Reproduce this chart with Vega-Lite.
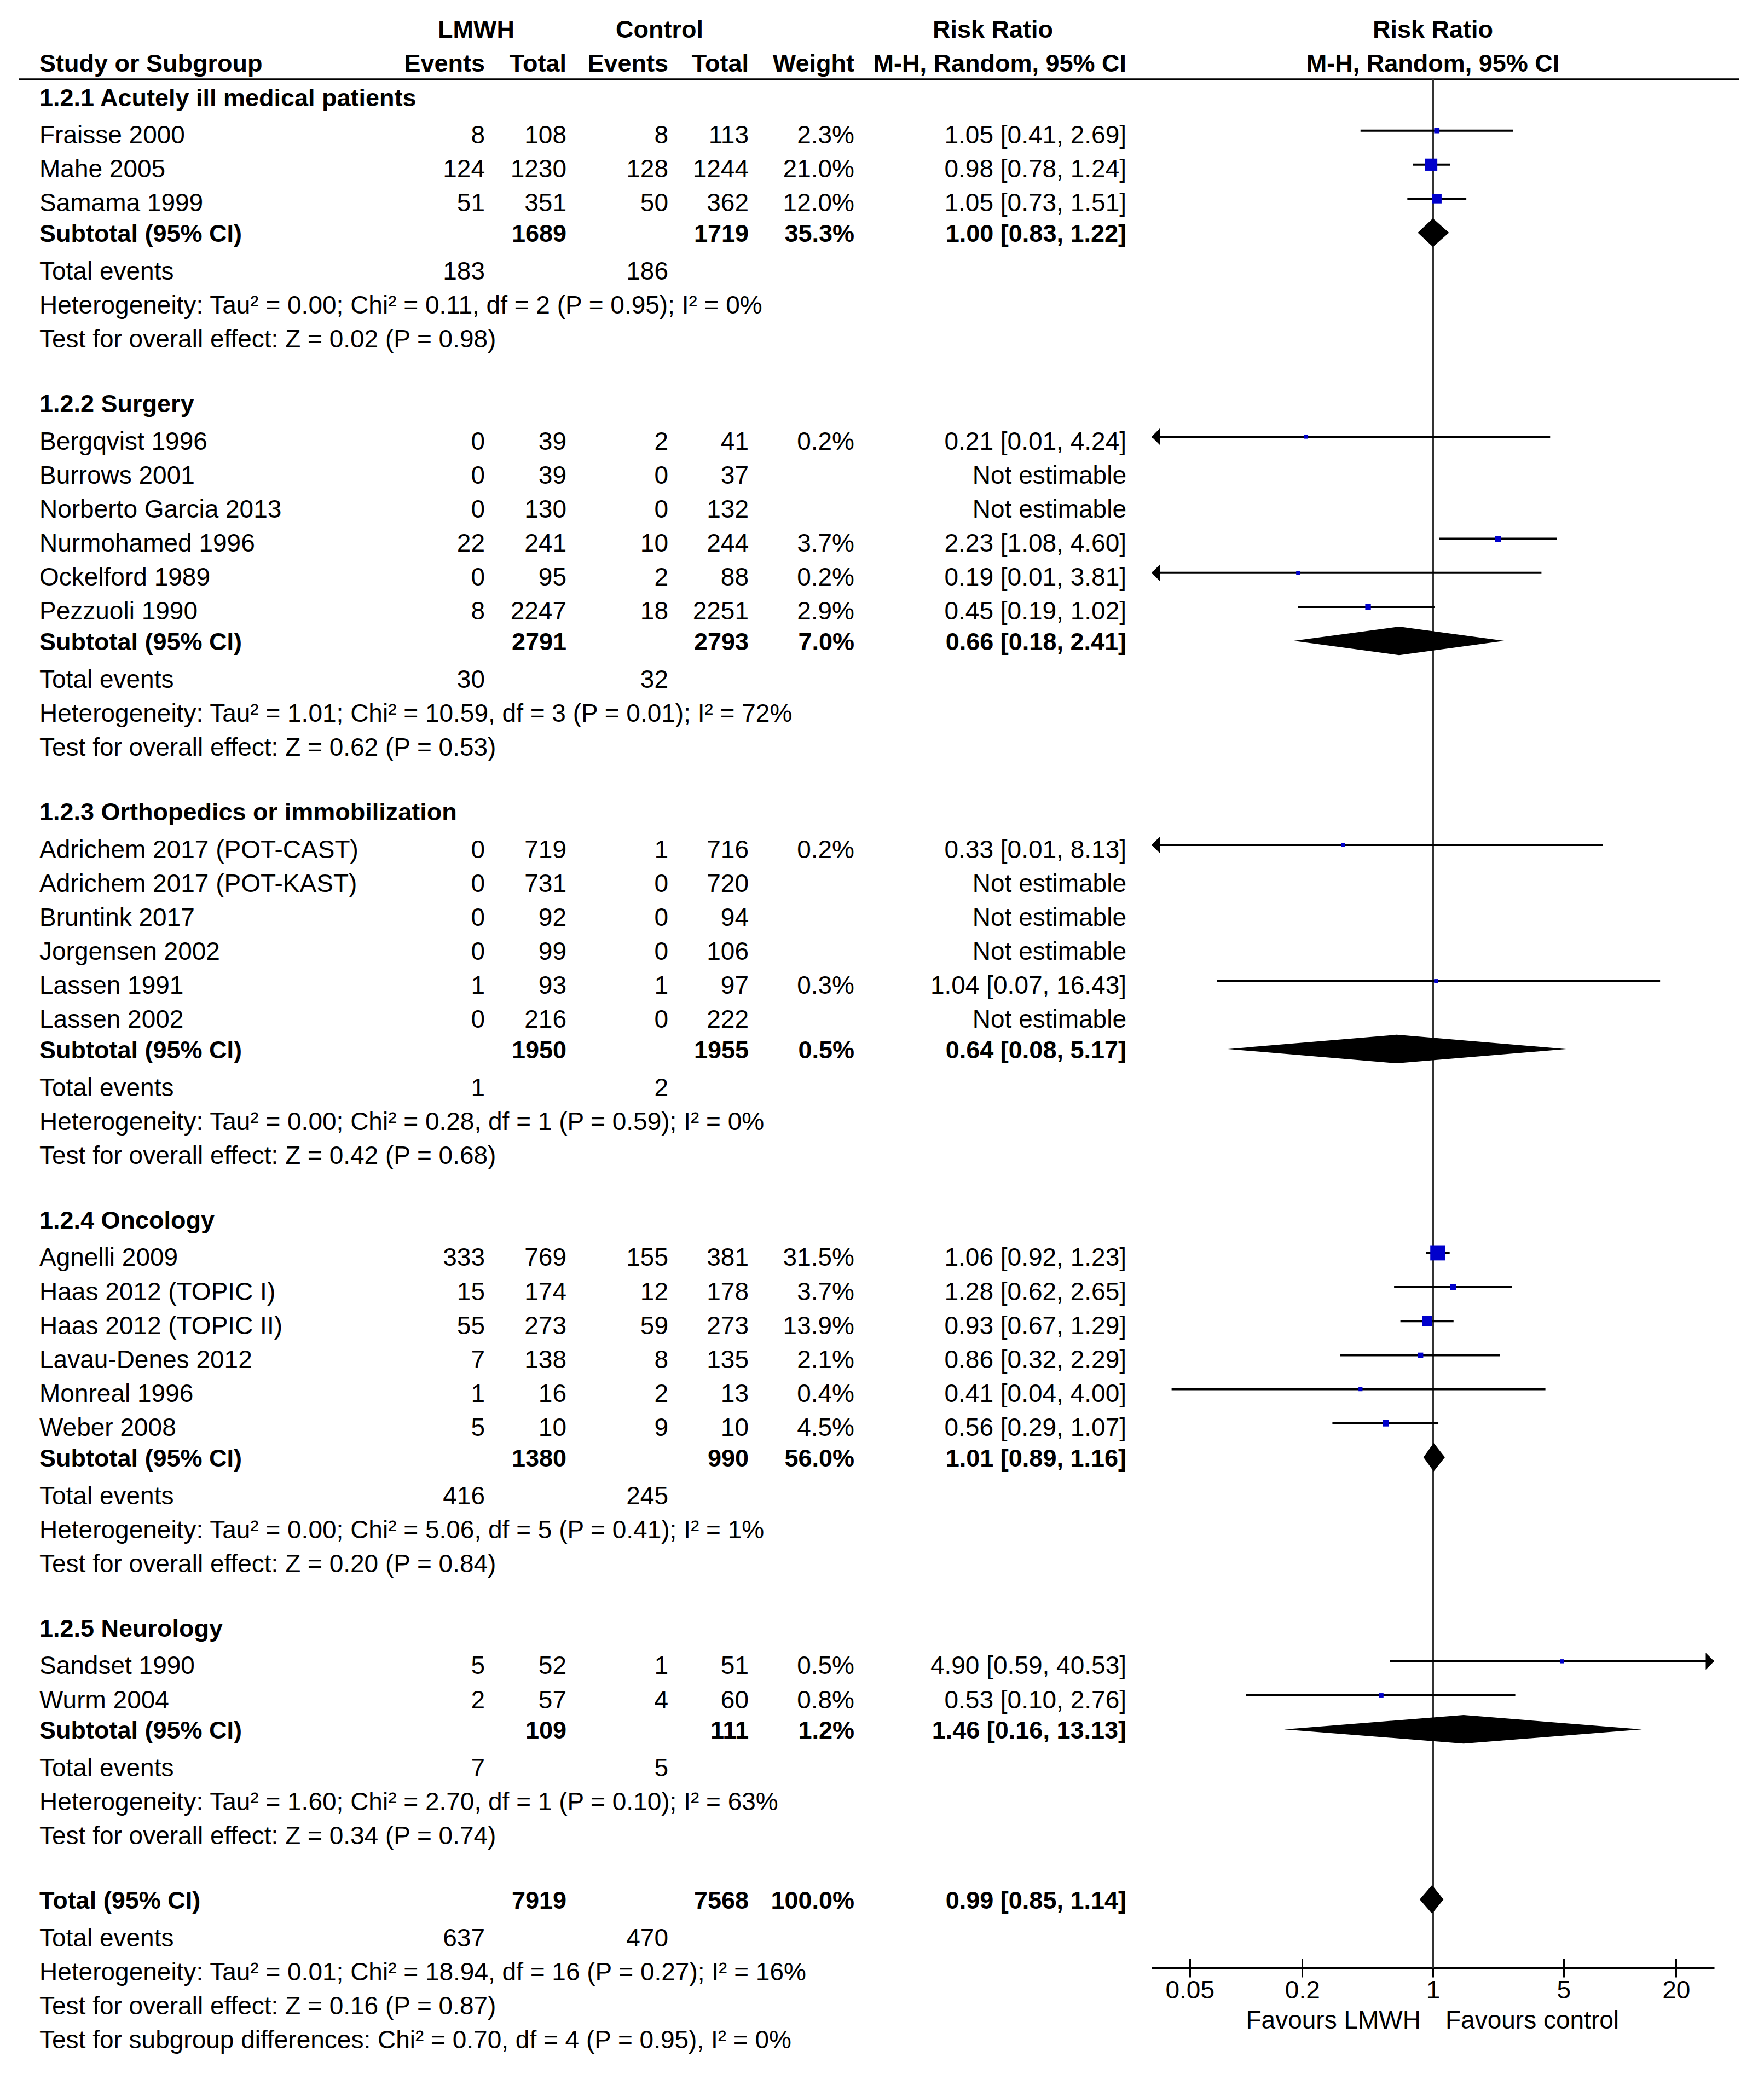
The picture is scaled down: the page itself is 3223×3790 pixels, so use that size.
{
 "$schema": "https://vega.github.io/schema/vega-lite/v6.json",
 "width": 3223, "height": 3790, "autosize": {"type": "none"}, "padding": 0,
 "background": "white",
 "config": {"view": {"stroke": null}},
 "datasets": {
  "hdr": [
   {"r": 1, "c": 1, "t": "Study or Subgroup"},
   {"r": 0, "c": 2, "t": "LMWH"},
   {"r": 0, "c": 5, "t": "Control"},
   {"r": 0, "c": 9, "t": "Risk Ratio"},
   {"r": 1, "c": 3, "t": "Events"},
   {"r": 1, "c": 4, "t": "Total"},
   {"r": 1, "c": 6, "t": "Events"},
   {"r": 1, "c": 7, "t": "Total"},
   {"r": 1, "c": 8, "t": "Weight"},
   {"r": 1, "c": 10, "t": "M-H, Random, 95% CI"}
  ],
  "phdr": [
   {"r": 0, "t": "Risk Ratio"},
   {"r": 1, "t": "M-H, Random, 95% CI"}
  ],
  "table": [
   {"r": 2, "kind": "heading", "label": "1.2.1 Acutely ill medical patients"},
   {"r": 3, "kind": "study", "label": "Fraisse 2000", "e1": 8, "n1": 108, "e2": 8, "n2": 113, "w": 0.023, "ci": "1.05 [0.41, 2.69]", "rr": 1.05, "lo": 0.41, "hi": 2.69},
   {"r": 4, "kind": "study", "label": "Mahe 2005", "e1": 124, "n1": 1230, "e2": 128, "n2": 1244, "w": 0.21, "ci": "0.98 [0.78, 1.24]", "rr": 0.98, "lo": 0.78, "hi": 1.24},
   {"r": 5, "kind": "study", "label": "Samama 1999", "e1": 51, "n1": 351, "e2": 50, "n2": 362, "w": 0.12, "ci": "1.05 [0.73, 1.51]", "rr": 1.05, "lo": 0.73, "hi": 1.51},
   {"r": 6, "kind": "subtotal", "label": "Subtotal (95% CI)", "n1": 1689, "n2": 1719, "w": 0.353, "ci": "1.00 [0.83, 1.22]", "rr": 1.0, "lo": 0.83, "hi": 1.22},
   {"r": 7, "kind": "events", "label": "Total events", "e1": 183, "e2": 186},
   {"r": 8, "kind": "note", "label": "Heterogeneity: Tau² = 0.00; Chi² = 0.11, df = 2 (P = 0.95); I² = 0%"},
   {"r": 9, "kind": "note", "label": "Test for overall effect: Z = 0.02 (P = 0.98)"},
   {"r": 11, "kind": "heading", "label": "1.2.2 Surgery"},
   {"r": 12, "kind": "study", "label": "Bergqvist 1996", "e1": 0, "n1": 39, "e2": 2, "n2": 41, "w": 0.002, "ci": "0.21 [0.01, 4.24]", "rr": 0.21, "lo": 0.01, "hi": 4.24},
   {"r": 13, "kind": "study", "label": "Burrows 2001", "e1": 0, "n1": 39, "e2": 0, "n2": 37, "ci": "Not estimable"},
   {"r": 14, "kind": "study", "label": "Norberto Garcia 2013", "e1": 0, "n1": 130, "e2": 0, "n2": 132, "ci": "Not estimable"},
   {"r": 15, "kind": "study", "label": "Nurmohamed 1996", "e1": 22, "n1": 241, "e2": 10, "n2": 244, "w": 0.037, "ci": "2.23 [1.08, 4.60]", "rr": 2.23, "lo": 1.08, "hi": 4.60},
   {"r": 16, "kind": "study", "label": "Ockelford 1989", "e1": 0, "n1": 95, "e2": 2, "n2": 88, "w": 0.002, "ci": "0.19 [0.01, 3.81]", "rr": 0.19, "lo": 0.01, "hi": 3.81},
   {"r": 17, "kind": "study", "label": "Pezzuoli 1990", "e1": 8, "n1": 2247, "e2": 18, "n2": 2251, "w": 0.029, "ci": "0.45 [0.19, 1.02]", "rr": 0.45, "lo": 0.19, "hi": 1.02},
   {"r": 18, "kind": "subtotal", "label": "Subtotal (95% CI)", "n1": 2791, "n2": 2793, "w": 0.07, "ci": "0.66 [0.18, 2.41]", "rr": 0.66, "lo": 0.18, "hi": 2.41},
   {"r": 19, "kind": "events", "label": "Total events", "e1": 30, "e2": 32},
   {"r": 20, "kind": "note", "label": "Heterogeneity: Tau² = 1.01; Chi² = 10.59, df = 3 (P = 0.01); I² = 72%"},
   {"r": 21, "kind": "note", "label": "Test for overall effect: Z = 0.62 (P = 0.53)"},
   {"r": 23, "kind": "heading", "label": "1.2.3 Orthopedics or immobilization"},
   {"r": 24, "kind": "study", "label": "Adrichem 2017 (POT-CAST)", "e1": 0, "n1": 719, "e2": 1, "n2": 716, "w": 0.002, "ci": "0.33 [0.01, 8.13]", "rr": 0.33, "lo": 0.01, "hi": 8.13},
   {"r": 25, "kind": "study", "label": "Adrichem 2017 (POT-KAST)", "e1": 0, "n1": 731, "e2": 0, "n2": 720, "ci": "Not estimable"},
   {"r": 26, "kind": "study", "label": "Bruntink 2017", "e1": 0, "n1": 92, "e2": 0, "n2": 94, "ci": "Not estimable"},
   {"r": 27, "kind": "study", "label": "Jorgensen 2002", "e1": 0, "n1": 99, "e2": 0, "n2": 106, "ci": "Not estimable"},
   {"r": 28, "kind": "study", "label": "Lassen 1991", "e1": 1, "n1": 93, "e2": 1, "n2": 97, "w": 0.003, "ci": "1.04 [0.07, 16.43]", "rr": 1.04, "lo": 0.07, "hi": 16.43},
   {"r": 29, "kind": "study", "label": "Lassen 2002", "e1": 0, "n1": 216, "e2": 0, "n2": 222, "ci": "Not estimable"},
   {"r": 30, "kind": "subtotal", "label": "Subtotal (95% CI)", "n1": 1950, "n2": 1955, "w": 0.005, "ci": "0.64 [0.08, 5.17]", "rr": 0.64, "lo": 0.08, "hi": 5.17},
   {"r": 31, "kind": "events", "label": "Total events", "e1": 1, "e2": 2},
   {"r": 32, "kind": "note", "label": "Heterogeneity: Tau² = 0.00; Chi² = 0.28, df = 1 (P = 0.59); I² = 0%"},
   {"r": 33, "kind": "note", "label": "Test for overall effect: Z = 0.42 (P = 0.68)"},
   {"r": 35, "kind": "heading", "label": "1.2.4 Oncology"},
   {"r": 36, "kind": "study", "label": "Agnelli 2009", "e1": 333, "n1": 769, "e2": 155, "n2": 381, "w": 0.315, "ci": "1.06 [0.92, 1.23]", "rr": 1.06, "lo": 0.92, "hi": 1.23},
   {"r": 37, "kind": "study", "label": "Haas 2012 (TOPIC I)", "e1": 15, "n1": 174, "e2": 12, "n2": 178, "w": 0.037, "ci": "1.28 [0.62, 2.65]", "rr": 1.28, "lo": 0.62, "hi": 2.65},
   {"r": 38, "kind": "study", "label": "Haas 2012 (TOPIC II)", "e1": 55, "n1": 273, "e2": 59, "n2": 273, "w": 0.139, "ci": "0.93 [0.67, 1.29]", "rr": 0.93, "lo": 0.67, "hi": 1.29},
   {"r": 39, "kind": "study", "label": "Lavau-Denes 2012", "e1": 7, "n1": 138, "e2": 8, "n2": 135, "w": 0.021, "ci": "0.86 [0.32, 2.29]", "rr": 0.86, "lo": 0.32, "hi": 2.29},
   {"r": 40, "kind": "study", "label": "Monreal 1996", "e1": 1, "n1": 16, "e2": 2, "n2": 13, "w": 0.004, "ci": "0.41 [0.04, 4.00]", "rr": 0.41, "lo": 0.04, "hi": 4.00},
   {"r": 41, "kind": "study", "label": "Weber 2008", "e1": 5, "n1": 10, "e2": 9, "n2": 10, "w": 0.045, "ci": "0.56 [0.29, 1.07]", "rr": 0.56, "lo": 0.29, "hi": 1.07},
   {"r": 42, "kind": "subtotal", "label": "Subtotal (95% CI)", "n1": 1380, "n2": 990, "w": 0.56, "ci": "1.01 [0.89, 1.16]", "rr": 1.01, "lo": 0.89, "hi": 1.16},
   {"r": 43, "kind": "events", "label": "Total events", "e1": 416, "e2": 245},
   {"r": 44, "kind": "note", "label": "Heterogeneity: Tau² = 0.00; Chi² = 5.06, df = 5 (P = 0.41); I² = 1%"},
   {"r": 45, "kind": "note", "label": "Test for overall effect: Z = 0.20 (P = 0.84)"},
   {"r": 47, "kind": "heading", "label": "1.2.5 Neurology"},
   {"r": 48, "kind": "study", "label": "Sandset 1990", "e1": 5, "n1": 52, "e2": 1, "n2": 51, "w": 0.005, "ci": "4.90 [0.59, 40.53]", "rr": 4.90, "lo": 0.59, "hi": 40.53},
   {"r": 49, "kind": "study", "label": "Wurm 2004", "e1": 2, "n1": 57, "e2": 4, "n2": 60, "w": 0.008, "ci": "0.53 [0.10, 2.76]", "rr": 0.53, "lo": 0.10, "hi": 2.76},
   {"r": 50, "kind": "subtotal", "label": "Subtotal (95% CI)", "n1": 109, "n2": 111, "w": 0.012, "ci": "1.46 [0.16, 13.13]", "rr": 1.46, "lo": 0.16, "hi": 13.13},
   {"r": 51, "kind": "events", "label": "Total events", "e1": 7, "e2": 5},
   {"r": 52, "kind": "note", "label": "Heterogeneity: Tau² = 1.60; Chi² = 2.70, df = 1 (P = 0.10); I² = 63%"},
   {"r": 53, "kind": "note", "label": "Test for overall effect: Z = 0.34 (P = 0.74)"},
   {"r": 55, "kind": "total", "label": "Total (95% CI)", "n1": 7919, "n2": 7568, "w": 1.0, "ci": "0.99 [0.85, 1.14]", "rr": 0.99, "lo": 0.85, "hi": 1.14},
   {"r": 56, "kind": "events", "label": "Total events", "e1": 637, "e2": 470},
   {"r": 57, "kind": "note", "label": "Heterogeneity: Tau² = 0.01; Chi² = 18.94, df = 16 (P = 0.27); I² = 16%"},
   {"r": 58, "kind": "note", "label": "Test for overall effect: Z = 0.16 (P = 0.87)"},
   {"r": 59, "kind": "note", "label": "Test for subgroup differences: Chi² = 0.70, df = 4 (P = 0.95), I² = 0%"}
  ]
 },
 "layer": [
  {"data": {"values": [{}]},
   "mark": {"type": "rule", "stroke": "#000", "strokeWidth": 3.5},
   "encoding": {
    "x": {"datum": 0, "type": "quantitative", "scale": {"domain": [0,1,2,3,4,5,6,7,8,9,10,11], "range": [34,72,870,886,1035,1205,1221,1368,1561,1814,2058,3177], "nice": false, "zero": false}, "axis": null},
    "x2": {"datum": 11},
    "y": {"datum": 1.493, "type": "quantitative", "scale": {"domain": [0,59], "range": [52.2,3719.6], "nice": false, "zero": false}, "axis": null}}},
  {"data": {"name": "hdr"}, "transform": [{"filter": "datum.c == 1"}],
   "mark": {"type": "text", "align": "left", "baseline": "middle", "dy": 3, "font": "Liberation Sans", "fontSize": 45, "fontWeight": "bold", "fill": "#000"},
   "encoding": {
    "x": {"field": "c", "type": "quantitative", "scale": {"domain": [0,1,2,3,4,5,6,7,8,9,10,11], "range": [34,72,870,886,1035,1205,1221,1368,1561,1814,2058,3177], "nice": false, "zero": false}, "axis": null},
    "y": {"field": "r", "type": "quantitative", "scale": {"domain": [0,59], "range": [52.2,3719.6], "nice": false, "zero": false}, "axis": null},
    "text": {"field": "t"}}},
  {"data": {"name": "hdr"}, "transform": [{"filter": "datum.r == 0"}],
   "mark": {"type": "text", "align": "center", "baseline": "middle", "dy": 3, "font": "Liberation Sans", "fontSize": 45, "fontWeight": "bold", "fill": "#000"},
   "encoding": {
    "x": {"field": "c", "type": "quantitative", "scale": {"domain": [0,1,2,3,4,5,6,7,8,9,10,11], "range": [34,72,870,886,1035,1205,1221,1368,1561,1814,2058,3177], "nice": false, "zero": false}, "axis": null},
    "y": {"field": "r", "type": "quantitative", "scale": {"domain": [0,59], "range": [52.2,3719.6], "nice": false, "zero": false}, "axis": null},
    "text": {"field": "t"}}},
  {"data": {"name": "hdr"}, "transform": [{"filter": "datum.r == 1 && datum.c > 1"}],
   "mark": {"type": "text", "align": "right", "baseline": "middle", "dy": 3, "font": "Liberation Sans", "fontSize": 45, "fontWeight": "bold", "fill": "#000"},
   "encoding": {
    "x": {"field": "c", "type": "quantitative", "scale": {"domain": [0,1,2,3,4,5,6,7,8,9,10,11], "range": [34,72,870,886,1035,1205,1221,1368,1561,1814,2058,3177], "nice": false, "zero": false}, "axis": null},
    "y": {"field": "r", "type": "quantitative", "scale": {"domain": [0,59], "range": [52.2,3719.6], "nice": false, "zero": false}, "axis": null},
    "text": {"field": "t"}}},
  {"data": {"name": "table"}, "transform": [{"filter": "datum.kind == 'study' || datum.kind == 'events' || datum.kind == 'note'"}],
   "mark": {"type": "text", "align": "left", "baseline": "middle", "dy": 9.5, "font": "Liberation Sans", "fontSize": 46, "fill": "#000"},
   "encoding": {
    "x": {"datum": 1, "type": "quantitative", "scale": {"domain": [0,1,2,3,4,5,6,7,8,9,10,11], "range": [34,72,870,886,1035,1205,1221,1368,1561,1814,2058,3177], "nice": false, "zero": false}, "axis": null},
    "y": {"field": "r", "type": "quantitative", "scale": {"domain": [0,59], "range": [52.2,3719.6], "nice": false, "zero": false}, "axis": null},
    "text": {"field": "label"}}},
  {"data": {"name": "table"}, "transform": [{"filter": "datum.kind == 'heading' || datum.kind == 'subtotal' || datum.kind == 'total'"}],
   "mark": {"type": "text", "align": "left", "baseline": "middle", "dy": 3, "font": "Liberation Sans", "fontSize": 45, "fontWeight": "bold", "fill": "#000"},
   "encoding": {
    "x": {"datum": 1, "type": "quantitative", "scale": {"domain": [0,1,2,3,4,5,6,7,8,9,10,11], "range": [34,72,870,886,1035,1205,1221,1368,1561,1814,2058,3177], "nice": false, "zero": false}, "axis": null},
    "y": {"field": "r", "type": "quantitative", "scale": {"domain": [0,59], "range": [52.2,3719.6], "nice": false, "zero": false}, "axis": null},
    "text": {"field": "label"}}},
  {"data": {"name": "table"}, "transform": [{"filter": "(datum.kind == 'study' || datum.kind == 'events') && isValid(datum.e1)"}],
   "mark": {"type": "text", "align": "right", "baseline": "middle", "dy": 9.5, "font": "Liberation Sans", "fontSize": 46, "fill": "#000"},
   "encoding": {
    "x": {"datum": 3, "type": "quantitative", "scale": {"domain": [0,1,2,3,4,5,6,7,8,9,10,11], "range": [34,72,870,886,1035,1205,1221,1368,1561,1814,2058,3177], "nice": false, "zero": false}, "axis": null},
    "y": {"field": "r", "type": "quantitative", "scale": {"domain": [0,59], "range": [52.2,3719.6], "nice": false, "zero": false}, "axis": null},
    "text": {"field": "e1", "type": "nominal"}}},
  {"data": {"name": "table"}, "transform": [{"filter": "datum.kind == 'study'"}],
   "mark": {"type": "text", "align": "right", "baseline": "middle", "dy": 9.5, "font": "Liberation Sans", "fontSize": 46, "fill": "#000"},
   "encoding": {
    "x": {"datum": 4, "type": "quantitative", "scale": {"domain": [0,1,2,3,4,5,6,7,8,9,10,11], "range": [34,72,870,886,1035,1205,1221,1368,1561,1814,2058,3177], "nice": false, "zero": false}, "axis": null},
    "y": {"field": "r", "type": "quantitative", "scale": {"domain": [0,59], "range": [52.2,3719.6], "nice": false, "zero": false}, "axis": null},
    "text": {"field": "n1", "type": "nominal"}}},
  {"data": {"name": "table"}, "transform": [{"filter": "(datum.kind == 'study' || datum.kind == 'events') && isValid(datum.e2)"}],
   "mark": {"type": "text", "align": "right", "baseline": "middle", "dy": 9.5, "font": "Liberation Sans", "fontSize": 46, "fill": "#000"},
   "encoding": {
    "x": {"datum": 6, "type": "quantitative", "scale": {"domain": [0,1,2,3,4,5,6,7,8,9,10,11], "range": [34,72,870,886,1035,1205,1221,1368,1561,1814,2058,3177], "nice": false, "zero": false}, "axis": null},
    "y": {"field": "r", "type": "quantitative", "scale": {"domain": [0,59], "range": [52.2,3719.6], "nice": false, "zero": false}, "axis": null},
    "text": {"field": "e2", "type": "nominal"}}},
  {"data": {"name": "table"}, "transform": [{"filter": "datum.kind == 'study'"}],
   "mark": {"type": "text", "align": "right", "baseline": "middle", "dy": 9.5, "font": "Liberation Sans", "fontSize": 46, "fill": "#000"},
   "encoding": {
    "x": {"datum": 7, "type": "quantitative", "scale": {"domain": [0,1,2,3,4,5,6,7,8,9,10,11], "range": [34,72,870,886,1035,1205,1221,1368,1561,1814,2058,3177], "nice": false, "zero": false}, "axis": null},
    "y": {"field": "r", "type": "quantitative", "scale": {"domain": [0,59], "range": [52.2,3719.6], "nice": false, "zero": false}, "axis": null},
    "text": {"field": "n2", "type": "nominal"}}},
  {"data": {"name": "table"}, "transform": [{"filter": "datum.kind == 'study' && isValid(datum.w)"}],
   "mark": {"type": "text", "align": "right", "baseline": "middle", "dy": 9.5, "font": "Liberation Sans", "fontSize": 46, "fill": "#000"},
   "encoding": {
    "x": {"datum": 8, "type": "quantitative", "scale": {"domain": [0,1,2,3,4,5,6,7,8,9,10,11], "range": [34,72,870,886,1035,1205,1221,1368,1561,1814,2058,3177], "nice": false, "zero": false}, "axis": null},
    "y": {"field": "r", "type": "quantitative", "scale": {"domain": [0,59], "range": [52.2,3719.6], "nice": false, "zero": false}, "axis": null},
    "text": {"field": "w", "type": "quantitative", "format": ".1%"}}},
  {"data": {"name": "table"}, "transform": [{"filter": "datum.kind == 'study'"}],
   "mark": {"type": "text", "align": "right", "baseline": "middle", "dy": 9.5, "font": "Liberation Sans", "fontSize": 46, "fill": "#000"},
   "encoding": {
    "x": {"datum": 10, "type": "quantitative", "scale": {"domain": [0,1,2,3,4,5,6,7,8,9,10,11], "range": [34,72,870,886,1035,1205,1221,1368,1561,1814,2058,3177], "nice": false, "zero": false}, "axis": null},
    "y": {"field": "r", "type": "quantitative", "scale": {"domain": [0,59], "range": [52.2,3719.6], "nice": false, "zero": false}, "axis": null},
    "text": {"field": "ci", "type": "nominal"}}},
  {"data": {"name": "table"}, "transform": [{"filter": "datum.kind == 'subtotal' || datum.kind == 'total'"}],
   "mark": {"type": "text", "align": "right", "baseline": "middle", "dy": 3, "font": "Liberation Sans", "fontSize": 45, "fontWeight": "bold", "fill": "#000"},
   "encoding": {
    "x": {"datum": 4, "type": "quantitative", "scale": {"domain": [0,1,2,3,4,5,6,7,8,9,10,11], "range": [34,72,870,886,1035,1205,1221,1368,1561,1814,2058,3177], "nice": false, "zero": false}, "axis": null},
    "y": {"field": "r", "type": "quantitative", "scale": {"domain": [0,59], "range": [52.2,3719.6], "nice": false, "zero": false}, "axis": null},
    "text": {"field": "n1", "type": "nominal"}}},
  {"data": {"name": "table"}, "transform": [{"filter": "datum.kind == 'subtotal' || datum.kind == 'total'"}],
   "mark": {"type": "text", "align": "right", "baseline": "middle", "dy": 3, "font": "Liberation Sans", "fontSize": 45, "fontWeight": "bold", "fill": "#000"},
   "encoding": {
    "x": {"datum": 7, "type": "quantitative", "scale": {"domain": [0,1,2,3,4,5,6,7,8,9,10,11], "range": [34,72,870,886,1035,1205,1221,1368,1561,1814,2058,3177], "nice": false, "zero": false}, "axis": null},
    "y": {"field": "r", "type": "quantitative", "scale": {"domain": [0,59], "range": [52.2,3719.6], "nice": false, "zero": false}, "axis": null},
    "text": {"field": "n2", "type": "nominal"}}},
  {"data": {"name": "table"}, "transform": [{"filter": "datum.kind == 'subtotal' || datum.kind == 'total'"}],
   "mark": {"type": "text", "align": "right", "baseline": "middle", "dy": 3, "font": "Liberation Sans", "fontSize": 45, "fontWeight": "bold", "fill": "#000"},
   "encoding": {
    "x": {"datum": 8, "type": "quantitative", "scale": {"domain": [0,1,2,3,4,5,6,7,8,9,10,11], "range": [34,72,870,886,1035,1205,1221,1368,1561,1814,2058,3177], "nice": false, "zero": false}, "axis": null},
    "y": {"field": "r", "type": "quantitative", "scale": {"domain": [0,59], "range": [52.2,3719.6], "nice": false, "zero": false}, "axis": null},
    "text": {"field": "w", "type": "quantitative", "format": ".1%"}}},
  {"data": {"name": "table"}, "transform": [{"filter": "datum.kind == 'subtotal' || datum.kind == 'total'"}],
   "mark": {"type": "text", "align": "right", "baseline": "middle", "dy": 3, "font": "Liberation Sans", "fontSize": 45, "fontWeight": "bold", "fill": "#000"},
   "encoding": {
    "x": {"datum": 10, "type": "quantitative", "scale": {"domain": [0,1,2,3,4,5,6,7,8,9,10,11], "range": [34,72,870,886,1035,1205,1221,1368,1561,1814,2058,3177], "nice": false, "zero": false}, "axis": null},
    "y": {"field": "r", "type": "quantitative", "scale": {"domain": [0,59], "range": [52.2,3719.6], "nice": false, "zero": false}, "axis": null},
    "text": {"field": "ci", "type": "nominal"}}},
  {"data": {"values": [{}]},
   "mark": {"type": "rule", "stroke": "#333", "strokeWidth": 4},
   "encoding": {
    "x": {"datum": 1, "type": "quantitative", "scale": {"type": "log", "domain": [0.03125, 32], "range": [2104, 3132], "clamp": true, "nice": false},
          "axis": {"orient": "bottom", "offset": -194, "values": [0.05, 0.2, 1, 5, 20], "labels": false, "domain": false, "grid": false, "title": null, "tickSize": -17, "tickWidth": 3, "tickColor": "#000"}},
    "y": {"datum": 1.493, "type": "quantitative", "scale": {"domain": [0,59], "range": [52.2,3719.6], "nice": false, "zero": false}, "axis": null},
    "y2": {"datum": 57.01}}},
  {"data": {"name": "table"}, "transform": [{"filter": "datum.kind == 'study' && isValid(datum.lo)"}],
   "mark": {"type": "rule", "stroke": "#000", "strokeWidth": 4},
   "encoding": {
    "x": {"field": "lo", "type": "quantitative", "scale": {"type": "log", "domain": [0.03125, 32], "range": [2104, 3132], "clamp": true, "nice": false},
          "axis": {"orient": "bottom", "offset": -194, "values": [0.05, 0.2, 1, 5, 20], "format": "~g", "labelFont": "Liberation Sans", "labelFontSize": 46, "labelColor": "#000", "labelPadding": 2, "labelFlush": false, "labelOverlap": false, "tickSize": 17, "tickWidth": 3, "tickColor": "#000", "domain": true, "domainWidth": 4, "domainColor": "#000", "grid": false, "title": null}},
    "x2": {"field": "hi"},
    "y": {"field": "r", "type": "quantitative", "scale": {"domain": [0,59], "range": [52.2,3719.6], "nice": false, "zero": false}, "axis": null}}},
  {"data": {"name": "table"}, "transform": [{"filter": "datum.kind == 'study' && isValid(datum.lo) && datum.lo < 0.03125"}],
   "mark": {"type": "point", "shape": "M0,0L1,-1L1,1Z", "size": 961, "filled": true, "fill": "#000", "opacity": 1, "strokeWidth": 0},
   "encoding": {
    "x": {"field": "lo", "type": "quantitative", "scale": {"type": "log", "domain": [0.03125, 32], "range": [2104, 3132], "clamp": true, "nice": false}, "axis": null},
    "y": {"field": "r", "type": "quantitative", "scale": {"domain": [0,59], "range": [52.2,3719.6], "nice": false, "zero": false}, "axis": null}}},
  {"data": {"name": "table"}, "transform": [{"filter": "datum.kind == 'study' && isValid(datum.hi) && datum.hi > 32"}],
   "mark": {"type": "point", "shape": "M0,0L-1,-1L-1,1Z", "size": 961, "filled": true, "fill": "#000", "opacity": 1, "strokeWidth": 0},
   "encoding": {
    "x": {"field": "hi", "type": "quantitative", "scale": {"type": "log", "domain": [0.03125, 32], "range": [2104, 3132], "clamp": true, "nice": false}, "axis": null},
    "y": {"field": "r", "type": "quantitative", "scale": {"domain": [0,59], "range": [52.2,3719.6], "nice": false, "zero": false}, "axis": null}}},
  {"data": {"name": "table"}, "transform": [{"filter": "datum.kind == 'study' && isValid(datum.rr) && isValid(datum.w)"}],
   "mark": {"type": "point", "shape": "square", "filled": true, "fill": "#0000cc", "opacity": 1, "strokeWidth": 0},
   "encoding": {
    "x": {"field": "rr", "type": "quantitative", "scale": {"type": "log", "domain": [0.03125, 32], "range": [2104, 3132], "clamp": true, "nice": false}, "axis": null},
    "y": {"field": "r", "type": "quantitative", "scale": {"domain": [0,59], "range": [52.2,3719.6], "nice": false, "zero": false}, "axis": null},
    "size": {"field": "w", "type": "quantitative", "scale": {"domain": [0, 0.315], "range": [45, 720]}, "legend": null}}},
  {"data": {"name": "table"},
   "transform": [
    {"filter": "datum.kind == 'subtotal' || datum.kind == 'total'"},
    {"fold": ["lo", "rr", "hi"], "as": ["k", "v"]},
    {"calculate": "datum.r - (datum.k == 'rr' ? 0.42 : 0)", "as": "yt"},
    {"calculate": "datum.r + (datum.k == 'rr' ? 0.42 : 0)", "as": "yb"}
   ],
   "mark": {"type": "area", "fill": "#000", "opacity": 1},
   "encoding": {
    "x": {"field": "v", "type": "quantitative", "scale": {"type": "log", "domain": [0.03125, 32], "range": [2104, 3132], "clamp": true, "nice": false}, "axis": null},
    "y": {"field": "yt", "type": "quantitative", "scale": {"domain": [0,59], "range": [52.2,3719.6], "nice": false, "zero": false}, "axis": null},
    "y2": {"field": "yb"},
    "detail": {"field": "r", "type": "nominal"}}},
  {"data": {"name": "phdr"},
   "mark": {"type": "text", "align": "center", "baseline": "middle", "dy": 3, "font": "Liberation Sans", "fontSize": 45, "fontWeight": "bold", "fill": "#000"},
   "encoding": {
    "x": {"datum": 1, "type": "quantitative", "scale": {"type": "log", "domain": [0.03125, 32], "range": [2104, 3132], "clamp": true, "nice": false}, "axis": null},
    "y": {"field": "r", "type": "quantitative", "scale": {"domain": [0,59], "range": [52.2,3719.6], "nice": false, "zero": false}, "axis": null},
    "text": {"field": "t"}}},
  {"data": {"values": [{"t": "Favours LMWH"}]},
   "mark": {"type": "text", "align": "right", "baseline": "middle", "dx": -22, "dy": 4, "font": "Liberation Sans", "fontSize": 46, "fill": "#000"},
   "encoding": {
    "x": {"datum": 1, "type": "quantitative", "scale": {"type": "log", "domain": [0.03125, 32], "range": [2104, 3132], "clamp": true, "nice": false}, "axis": null},
    "y": {"datum": 58.5, "type": "quantitative", "scale": {"domain": [0,59], "range": [52.2,3719.6], "nice": false, "zero": false}, "axis": null},
    "text": {"field": "t"}}},
  {"data": {"values": [{"t": "Favours control"}]},
   "mark": {"type": "text", "align": "left", "baseline": "middle", "dx": 23, "dy": 4, "font": "Liberation Sans", "fontSize": 46, "fill": "#000"},
   "encoding": {
    "x": {"datum": 1, "type": "quantitative", "scale": {"type": "log", "domain": [0.03125, 32], "range": [2104, 3132], "clamp": true, "nice": false}, "axis": null},
    "y": {"datum": 58.5, "type": "quantitative", "scale": {"domain": [0,59], "range": [52.2,3719.6], "nice": false, "zero": false}, "axis": null},
    "text": {"field": "t"}}}
 ],
 "resolve": {"scale": {"x": "independent"}, "axis": {"x": "independent"}}
}
